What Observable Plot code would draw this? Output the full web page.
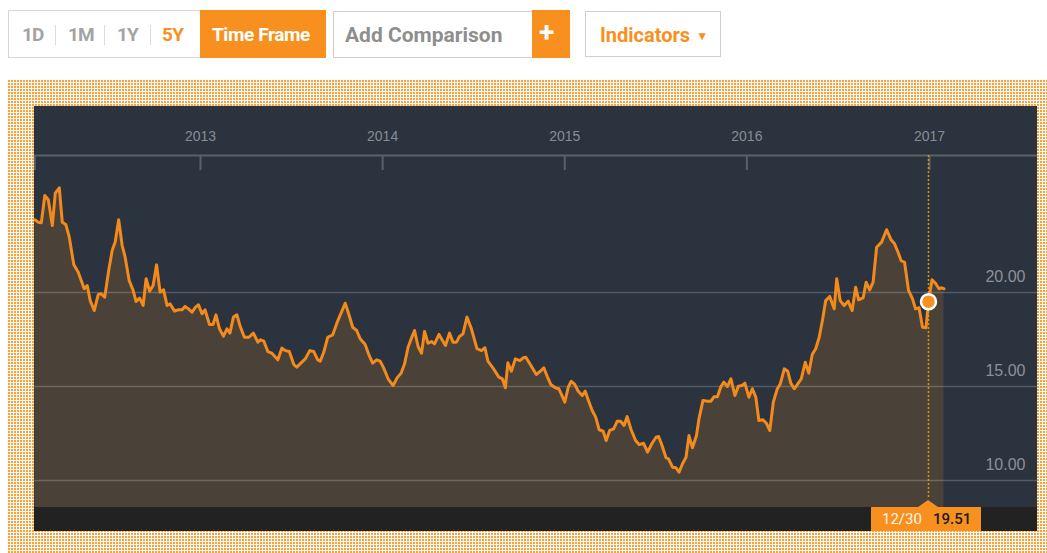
<!DOCTYPE html>
<html>
<head>
<meta charset="utf-8">
<script src="https://cdn.jsdelivr.net/npm/d3@7"></script>
<script src="https://cdn.jsdelivr.net/npm/@observablehq/plot@0.6"></script>
<style>
  html, body { margin: 0; padding: 0; background: #fff; }
  body { width: 1047px; height: 553px; overflow: hidden; position: relative; font-family: Roboto, "Liberation Sans", Arial, sans-serif; }
  .box { position: absolute; box-sizing: border-box; border: 1px solid #d6d6d6; background: #fff; }
  .blk { position: absolute; background: #f7901e; }
  .t { position: absolute; top: 22px; line-height: 26px; font-weight: 700; font-size: 19px; white-space: nowrap; letter-spacing: -0.4px; }
  .sep { position: absolute; top: 25px; height: 20px; width: 1px; background: #dcdcdc; }
  #frame { position: absolute; left: 7px; top: 79px; width: 1040px; height: 474px;
    background-color: #f9a13c;
    background-image: linear-gradient(to right, rgba(255,255,255,0.95) 1px, transparent 1px),
                      linear-gradient(to bottom, rgba(255,255,255,0.95) 1px, transparent 1px);
    background-size: 3px 3px; }
  #panel { position: absolute; left: 34px; top: 106px; width: 1003px; height: 425px; background: #2b333e; }
  #panel svg { display: block; }
  #bar { position: absolute; left: 0; top: 401px; width: 1003px; height: 24px; background: #222; }
  #tip { position: absolute; top: 401px; height: 24px; width: 110px; background: #f7901e; font-family: Roboto, "Liberation Sans", Arial, sans-serif; font-size: 15px; line-height: 24px; }
  #tip::before { content: ""; position: absolute; top: -7px; border-left: 10px solid transparent; border-right: 10px solid transparent; border-bottom: 7px solid #f7901e; }
  #tip .d { position: absolute; left: 11px; color: #fff3e6; }
  #tip .v { position: absolute; left: 62px; color: #1c1c1c; font-weight: 500; }
</style>
</head>
<body>
<!-- toolbar -->
<div class="box" style="left:8px;top:10px;width:318px;height:48px"></div>
<span class="t" style="left:22px;color:#a3a3a3;letter-spacing:-1px">1D</span>
<div class="sep" style="left:55px"></div>
<span class="t" style="left:68px;color:#a3a3a3;letter-spacing:-1px">1M</span>
<div class="sep" style="left:104px"></div>
<span class="t" style="left:117px;color:#a3a3a3;letter-spacing:-1px">1Y</span>
<div class="sep" style="left:150px"></div>
<span class="t" style="left:162px;color:#f7901e;letter-spacing:-0.6px">5Y</span>
<div class="blk" style="left:200px;top:10px;width:126px;height:48px"></div>
<span class="t" style="left:212px;color:#fff">Time Frame</span>
<div class="box" style="left:333px;top:11px;width:200px;height:47px;border-color:#cfcfcf"></div>
<span class="t" style="left:345px;color:#8e8e8e;font-size:21px;letter-spacing:0">Add Comparison</span>
<div class="blk" style="left:532px;top:10px;width:38px;height:48px"></div>
<span class="t" style="left:539px;top:20px;color:#fff;font-size:28px">+</span>
<div class="box" style="left:585px;top:11px;width:136px;height:46px;border-color:#cfcfcf"></div>
<span class="t" style="left:600px;color:#f7901e;font-size:20px;letter-spacing:0">Indicators<span style="font-size:12px;position:relative;top:-2px;margin-left:6px">&#9660;</span></span>

<div id="frame"></div>
<div id="panel"><div id="bar"></div></div>

<script>
// ---- data ----
const dates = [
"2012-02-04","2012-02-11","2012-02-17","2012-02-24","2012-03-02","2012-03-10","2012-03-16","2012-03-24","2012-03-30","2012-04-06",
"2012-04-13","2012-04-22","2012-05-01","2012-05-07","2012-05-13","2012-05-19","2012-05-25","2012-06-02","2012-06-10","2012-06-16",
"2012-06-23","2012-07-01","2012-07-08","2012-07-14","2012-07-21","2012-07-28","2012-08-03","2012-08-11","2012-08-19","2012-08-25",
"2012-09-01","2012-09-08","2012-09-14","2012-09-21","2012-09-28","2012-10-05","2012-10-12","2012-10-19","2012-10-26","2012-11-01",
"2012-11-10","2012-11-18","2012-11-25","2012-12-01","2012-12-08","2012-12-15","2012-12-21","2012-12-28",
"2013-01-04","2013-01-10","2013-01-19","2013-01-26","2013-02-01","2013-02-08","2013-02-16","2013-02-23","2013-03-01","2013-03-08",
"2013-03-15","2013-03-21","2013-03-30","2013-04-08","2013-04-17","2013-04-26","2013-05-01","2013-05-08","2013-05-16","2013-05-24",
"2013-06-05","2013-06-13","2013-06-20","2013-06-28","2013-07-07","2013-07-13","2013-07-21","2013-07-30","2013-08-08","2013-08-16",
"2013-08-24","2013-08-29","2013-09-05","2013-09-13","2013-09-23","2013-10-02","2013-10-18","2013-10-24","2013-11-02","2013-11-10",
"2013-11-17","2013-11-27","2013-12-05","2013-12-12","2013-12-20","2013-12-27",
"2014-01-03","2014-01-12","2014-01-22","2014-01-30","2014-02-07","2014-02-14","2014-02-21","2014-02-28","2014-03-06","2014-03-13",
"2014-03-20","2014-03-26","2014-04-02","2014-04-09","2014-04-15","2014-04-24","2014-05-01","2014-05-07","2014-05-15","2014-05-22",
"2014-05-29","2014-06-04","2014-06-11","2014-06-19","2014-06-28","2014-07-09","2014-07-18","2014-07-25","2014-07-31","2014-08-10",
"2014-08-22","2014-08-29","2014-09-04","2014-09-09","2014-09-16","2014-09-24","2014-10-03","2014-10-10","2014-10-15","2014-10-24",
"2014-11-05","2014-11-13","2014-11-20","2014-11-27","2014-12-04","2014-12-13","2014-12-20","2014-12-25",
"2015-01-01","2015-01-08","2015-01-14","2015-01-21","2015-01-28","2015-02-05","2015-02-11","2015-02-18","2015-02-25","2015-03-04",
"2015-03-11","2015-03-19","2015-03-25","2015-04-01","2015-04-09","2015-04-16","2015-04-23","2015-04-30","2015-05-06","2015-05-14",
"2015-05-23","2015-05-30","2015-06-08","2015-06-16","2015-06-25","2015-07-03","2015-07-08","2015-07-15","2015-07-23","2015-07-28",
"2015-08-05","2015-08-12","2015-08-18","2015-08-25","2015-09-01","2015-09-07","2015-09-14","2015-09-22","2015-09-27","2015-10-05",
"2015-10-14","2015-10-21","2015-10-27","2015-11-03","2015-11-10","2015-11-16","2015-11-23","2015-11-30","2015-12-08","2015-12-15",
"2015-12-22","2015-12-28",
"2016-01-05","2016-01-12","2016-01-19","2016-01-25","2016-02-02","2016-02-09","2016-02-16","2016-02-23","2016-03-02","2016-03-08",
"2016-03-16","2016-03-23","2016-03-29","2016-04-05","2016-04-12","2016-04-19","2016-04-27","2016-05-04","2016-05-11","2016-05-18",
"2016-05-25","2016-06-01","2016-06-07","2016-06-15","2016-06-24","2016-06-29","2016-07-06","2016-07-14","2016-07-22","2016-07-30",
"2016-08-06","2016-08-12","2016-08-21","2016-08-27","2016-09-03","2016-09-10","2016-09-17","2016-09-27","2016-10-07","2016-10-16",
"2016-10-23","2016-10-30","2016-11-05","2016-11-12","2016-11-20","2016-11-28","2016-12-04","2016-12-11","2016-12-18","2016-12-25",
"2016-12-30","2017-01-06","2017-01-13","2017-01-20","2017-01-26","2017-01-30"
];
const values = [
23.87,23.74,23.71,25.16,24.93,23.56,25.28,25.57,23.74,23.62,
22.94,21.49,21.08,20.64,20.20,20.37,19.57,19.04,19.89,19.93,
19.75,21.17,22.23,22.68,23.87,22.50,21.88,20.64,20.11,19.52,
19.70,19.31,20.73,20.07,20.37,21.47,20.02,20.14,19.31,19.40,
19.01,19.08,19.08,19.26,19.13,18.95,19.19,19.35,
18.87,19.08,18.30,18.30,18.81,18.07,17.68,18.07,17.84,18.69,
18.81,18.24,17.62,17.62,17.84,17.36,17.48,17.41,16.86,16.77,
16.42,17.04,16.91,16.86,16.17,16.03,16.24,16.47,16.91,16.86,
16.42,16.35,16.82,17.62,17.75,18.42,19.43,18.95,18.15,17.98,
17.54,17.23,16.65,16.24,16.42,16.35,
15.99,15.41,15.05,15.46,15.71,16.21,17.09,17.59,17.98,17.13,
16.77,17.93,17.30,17.39,17.27,17.77,17.45,17.18,17.84,17.36,
17.36,17.66,17.80,18.69,18.07,17.01,16.91,17.06,16.35,15.99,
15.50,15.41,14.93,16.26,15.81,16.47,16.38,16.53,16.56,16.17,
15.64,15.81,15.99,15.53,15.11,14.93,14.88,14.61,
14.17,14.96,15.28,15.11,14.75,14.52,14.75,14.22,13.72,13.37,
12.70,12.62,12.13,12.66,12.75,13.15,13.15,12.93,13.40,12.70,
12.13,11.91,11.98,11.51,11.98,12.30,12.34,11.86,11.21,11.15,
10.71,10.68,10.44,10.89,11.24,12.39,11.74,12.39,13.28,14.26,
14.22,14.22,14.45,14.45,15.00,15.23,15.00,15.41,14.52,15.02,
15.05,15.18,
14.43,14.88,14.43,13.19,13.23,13.05,12.66,14.17,14.88,15.14,
15.94,15.81,15.18,14.88,15.14,15.41,16.29,15.71,16.70,17.01,
17.62,18.60,19.57,19.79,19.13,20.73,19.57,19.31,19.54,19.04,
20.28,19.61,19.72,20.55,20.14,20.55,22.41,22.68,23.34,22.80,
22.59,22.14,21.70,21.61,20.11,19.66,19.13,19.19,18.15,18.12,
19.51,20.68,20.49,20.20,20.25,20.20
];
const yearTicks = ["2013-01-01","2014-01-01","2015-01-01","2016-01-01","2017-01-01"];
const yTicks = [10, 15, 20];
const markerDate = "2016-12-30";
const markerValue = 19.51;
const markerLabel = "12/30";

// ---- build ----
const data = dates.map((d, i) => ({date: new Date(d), value: values[i]}));
const years = yearTicks.map(d => new Date(d));
const marker = [{date: new Date(markerDate), value: markerValue}];

const orange = "#f7901e";
const axisGray = "#5b6169";

const chart = Plot.plot({
  width: 1003,
  height: 401,
  marginTop: 49,
  marginBottom: 0,
  marginLeft: 0,
  marginRight: 0,
  style: {background: "#2b333e", fontFamily: "'Liberation Sans', Arial, sans-serif", overflow: "hidden"},
  x: {type: "utc", domain: [years[0], years[years.length - 1]], range: [166, 895], axis: null},
  y: {domain: [10, 20], range: [374, 186], axis: null},
  marks: [
    Plot.areaY(data, {x: "date", y: "value", fill: "#4a4139", clip: true}),
    Plot.ruleY(yTicks, {stroke: "#ffffff", strokeOpacity: 0.2, strokeWidth: 1.5}),
    Plot.frame({anchor: "top", stroke: axisGray, strokeWidth: 2}),
    Plot.ruleX(years, {stroke: axisGray, strokeWidth: 2, insetBottom: 337}),
    Plot.ruleX([data[0].date], {stroke: axisGray, strokeWidth: 2, insetBottom: 337}),
    Plot.text(years, {x: d => d, text: d => d3.utcFormat("%Y")(d), frameAnchor: "top", dy: -19, lineAnchor: "middle", fill: "#878d95", fontSize: 14}),
    Plot.text(yTicks, {y: d => d, text: d => d.toFixed(2), frameAnchor: "right", textAnchor: "end", dx: -12, dy: -16, lineAnchor: "middle", fill: "#8b9199", fontSize: 16}),
    Plot.ruleX(marker, {x: "date", stroke: "#d9960f", strokeWidth: 1.5, strokeDasharray: "2,2", insetBottom: 10}),
    Plot.lineY(data, {x: "date", y: "value", stroke: "#f28a1c", strokeWidth: 3, strokeLinejoin: "round"}),
    Plot.dot(marker, {x: "date", y: "value", r: 7.5, fill: orange, stroke: "#ffffff", strokeWidth: 2.5})
  ]
});

const panel = document.getElementById("panel");
panel.insertBefore(chart, panel.firstChild);

// tooltip placed through the chart's own x scale
const xm = chart.scale("x").apply(new Date(markerDate));
const tip = document.createElement("div");
tip.id = "tip";
tip.style.left = (xm - 57) + "px";
tip.innerHTML = `<span class="d">${markerLabel}</span><span class="v">${markerValue.toFixed(2)}</span>`;
panel.appendChild(tip);
const st = document.createElement("style");
st.textContent = `#tip::before{left:${57 - 10}px}`;
document.head.appendChild(st);
</script>
</body>
</html>
